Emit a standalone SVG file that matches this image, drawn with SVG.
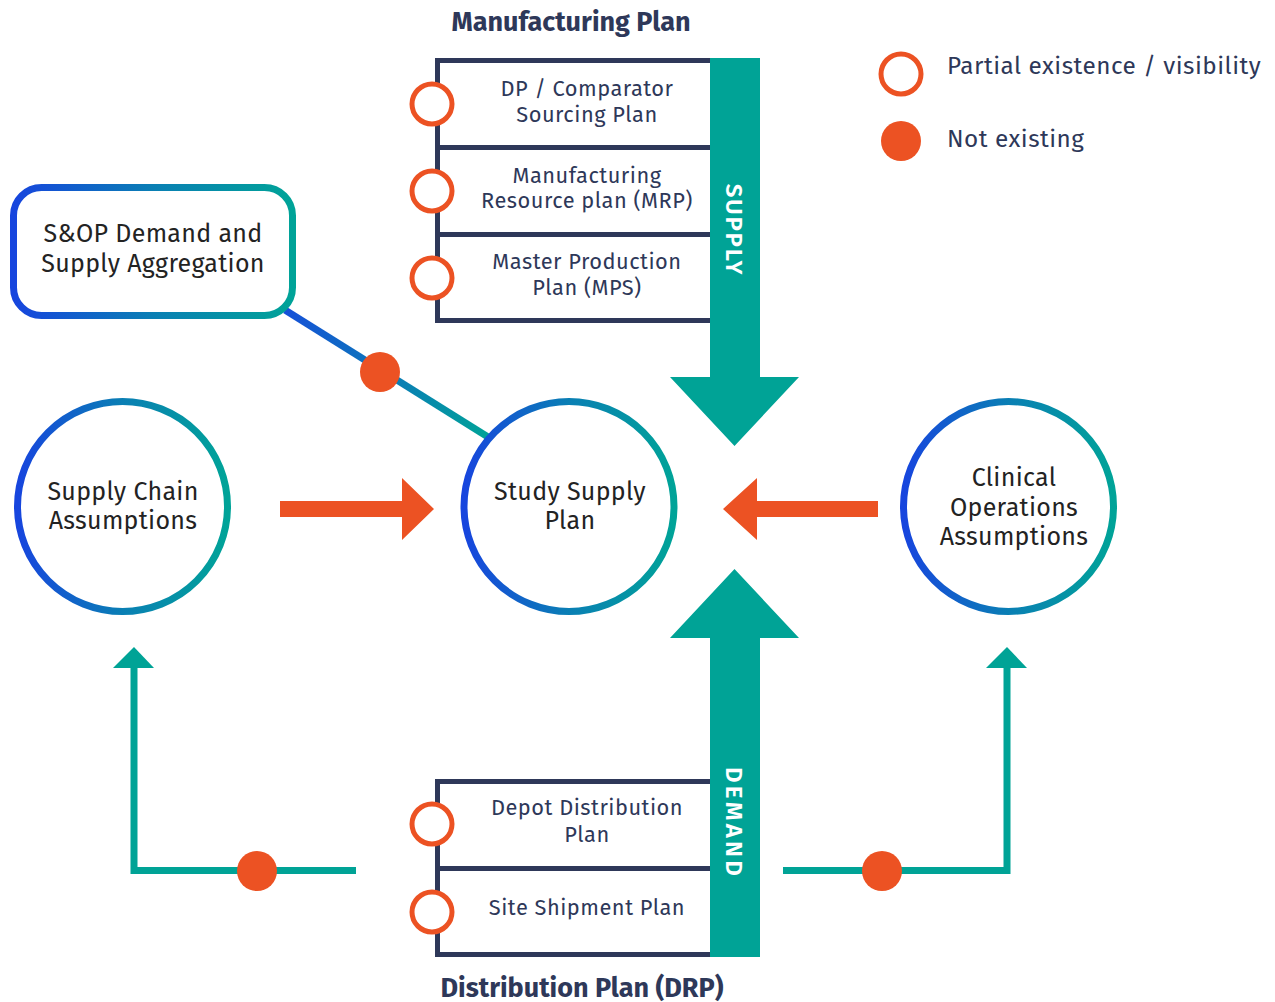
<svg xmlns="http://www.w3.org/2000/svg" width="1275" height="1002" viewBox="0 0 1275 1002">
<defs>
<linearGradient id="gx" x1="0" y1="0" x2="1" y2="0">
<stop offset="0" stop-color="#1745DE"/>
<stop offset="0.5" stop-color="#0A7FB4"/>
<stop offset="1" stop-color="#00A398"/>
</linearGradient>
<linearGradient id="gline" gradientUnits="userSpaceOnUse" x1="285" y1="310" x2="488" y2="437">
<stop offset="0" stop-color="#1650D8"/>
<stop offset="1" stop-color="#00A398"/>
</linearGradient>
<style>
.node{fill:#fff;stroke:url(#gx);stroke-width:7}
.ntxt{font-family:"Fira Sans","Noto Sans","Liberation Sans",sans-serif;font-size:25px;fill:#232323;text-anchor:middle;letter-spacing:0.3px}
.ptxt{font-family:"Fira Sans","Noto Sans","Liberation Sans",sans-serif;font-size:21.8px;fill:#2E3859;text-anchor:middle;letter-spacing:0.5px}
.title{font-family:"Fira Sans","Noto Sans","Liberation Sans",sans-serif;font-size:27px;font-weight:bold;fill:#2E3859;text-anchor:middle}
.box{fill:none;stroke:#2E3859;stroke-width:5}
.open{fill:#fff;stroke:#EC5223;stroke-width:5}
.dot{fill:#EC5223}
.teal{fill:#00A396}
.orange{fill:#EC5223}
.conn{fill:none;stroke:#00A396;stroke-width:7}
.vtxt{font-family:"Fira Sans","Noto Sans","Liberation Sans",sans-serif;font-size:24px;font-weight:600;fill:#fff;text-anchor:middle;letter-spacing:1px}
.leg{font-family:"Fira Sans","Noto Sans","Liberation Sans",sans-serif;font-size:24.3px;fill:#2E3859;letter-spacing:0.5px}
</style>
</defs>

<g id="connectors">
<line x1="285" y1="310" x2="488" y2="437" stroke="url(#gline)" stroke-width="7"/>
<circle class="dot" cx="380" cy="372" r="20"/>
<polyline class="conn" points="356,870.5 134,870.5 134,665"/>
<polygon class="teal" points="113,668 134,647 154,668"/>
<circle class="dot" cx="257" cy="871" r="20"/>
<polyline class="conn" points="783,870.5 1007,870.5 1007,665"/>
<polygon class="teal" points="986,668 1007,647 1027,668"/>
<circle class="dot" cx="882" cy="871" r="20"/>
<polygon class="orange" points="280,501 402,501 402,478 434,509 402,540 402,517 280,517"/>
<polygon class="orange" points="878,501 757,501 757,478 723,509 757,540 757,517 878,517"/>
</g>

<g id="supply-arrow">
<polygon class="teal" points="710,58 760,58 760,377 799,377 734.5,446 670,377 710,377"/>
<text class="vtxt" transform="translate(726,230) rotate(90)" style="letter-spacing:1.8px">SUPPLY</text>
</g>

<g id="demand-arrow">
<polygon class="teal" points="710,957 760,957 760,638 799,638 734.5,569 670,638 710,638"/>
<text class="vtxt" transform="translate(726,823) rotate(90)" style="letter-spacing:3.2px">DEMAND</text>
</g>

<g id="manufacturing-plan">
<text class="title" x="571" y="31">Manufacturing Plan</text>
<polyline class="box" points="710,60.5 437.5,60.5 437.5,320.5 710,320.5"/>
<line class="box" x1="437.5" y1="147.5" x2="710" y2="147.5"/>
<line class="box" x1="437.5" y1="234.5" x2="710" y2="234.5"/>
<circle class="open" cx="432" cy="104" r="20"/>
<circle class="open" cx="432" cy="191" r="20"/>
<circle class="open" cx="432" cy="278" r="20"/>
<text class="ptxt" x="587" y="96">DP / Comparator</text>
<text class="ptxt" x="587" y="122">Sourcing Plan</text>
<text class="ptxt" x="587" y="183">Manufacturing</text>
<text class="ptxt" x="587" y="208">Resource plan (MRP)</text>
<text class="ptxt" x="587" y="269">Master Production</text>
<text class="ptxt" x="587" y="295">Plan (MPS)</text>
</g>

<g id="distribution-plan">
<polyline class="box" points="710,781.5 437.5,781.5 437.5,954.5 710,954.5"/>
<line class="box" x1="437.5" y1="868.5" x2="710" y2="868.5"/>
<circle class="open" cx="432" cy="824" r="20"/>
<circle class="open" cx="432" cy="912" r="20"/>
<text class="ptxt" x="587" y="815">Depot Distribution</text>
<text class="ptxt" x="587" y="842">Plan</text>
<text class="ptxt" x="587" y="915">Site Shipment Plan</text>
<text class="title" x="582" y="997">Distribution Plan (DRP)</text>
</g>

<g id="sop">
<rect class="node" x="13.5" y="187.5" width="279" height="128" rx="28"/>
<text class="ntxt" x="153" y="242">S&amp;OP Demand and</text>
<text class="ntxt" x="153" y="272">Supply Aggregation</text>
</g>

<g id="supply-chain">
<circle class="node" cx="122.5" cy="506.5" r="105"/>
<text class="ntxt" x="123" y="500">Supply Chain</text>
<text class="ntxt" x="123" y="529">Assumptions</text>
</g>

<g id="study-supply">
<circle class="node" cx="569" cy="506.5" r="105"/>
<text class="ntxt" x="570" y="500">Study Supply</text>
<text class="ntxt" x="570" y="529">Plan</text>
</g>

<g id="clinical">
<circle class="node" cx="1008.5" cy="506.5" r="105"/>
<text class="ntxt" x="1014" y="486">Clinical</text>
<text class="ntxt" x="1014" y="516">Operations</text>
<text class="ntxt" x="1014" y="545">Assumptions</text>
</g>

<g id="legend">
<circle class="open" cx="901" cy="74" r="20"/>
<text class="leg" x="947" y="74">Partial existence / visibility</text>
<circle class="dot" cx="901" cy="141" r="20"/>
<text class="leg" x="947" y="147">Not existing</text>
</g>
</svg>
